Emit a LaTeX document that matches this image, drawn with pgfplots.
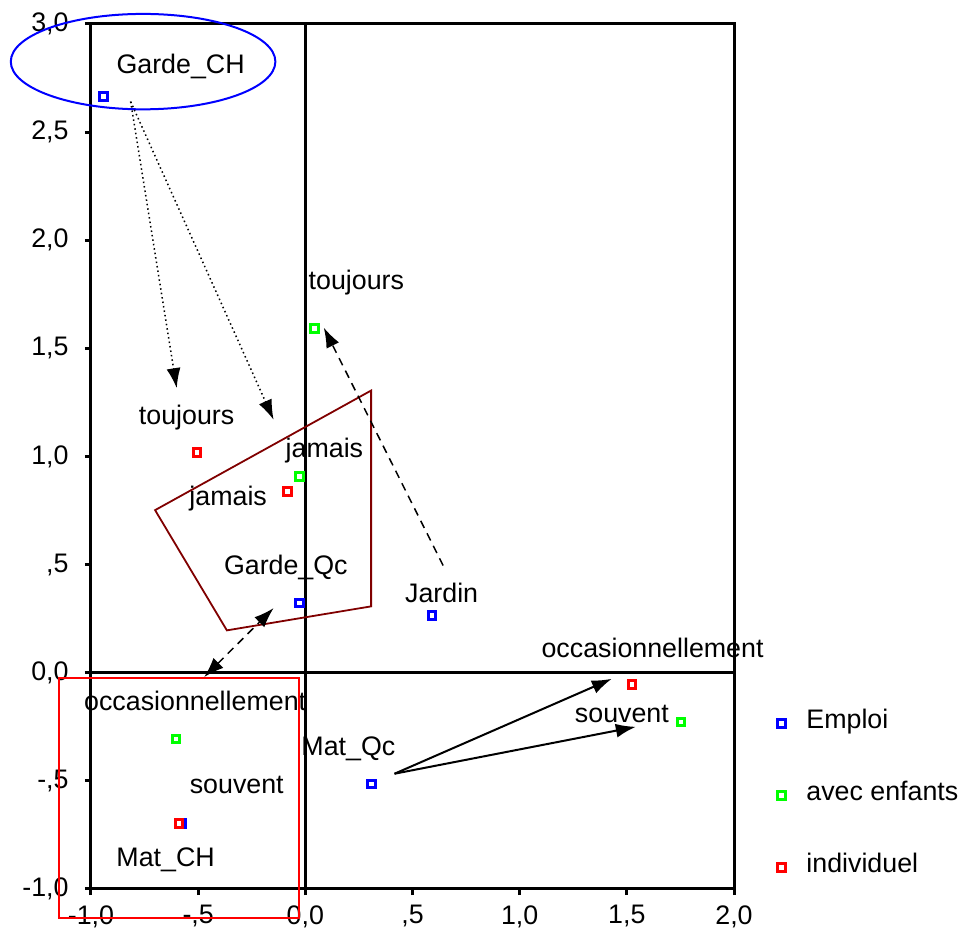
\documentclass[border=0pt]{standalone}
\usepackage{fontspec}
\setmainfont{Liberation Sans}
\usepackage{pgfplots}
\pgfplotsset{compat=1.18}
\usetikzlibrary{arrows.meta}
\definecolor{brownpoly}{RGB}{128,0,0}
\pgfplotsset{mymark/.style={only marks, mark=square*, mark size=1.85pt,
  legend image code/.code={\path[draw=none,fill=none] (0pt,-1pt) rectangle (15pt,1pt); \draw[##1] plot coordinates {(2.5pt,0pt)};}}}
\begin{document}
\begin{tikzpicture}[font=\fontsize{13.4}{15.5}\selectfont]
\path[use as bounding box] (-45.5pt,-21pt) rectangle (436pt,444.5pt);
\begin{axis}[
  at={(0pt,0pt)}, anchor=south west,
  scale only axis, width=321.5pt, height=432.5pt,
  xmin=-1, xmax=2, ymin=-1, ymax=3,
  clip=false,
  axis line style={line width=1.5pt},
  xtick={-1,-0.5,0,0.5,1,1.5,2},
  xticklabels={{-1,0},{-,5},{0,0},{,5},{1,0},{1,5},{2,0}},
  ytick={-1,-0.5,0,0.5,1,1.5,2,2.5,3},
  yticklabels={{-1,0},{-,5},{0,0},{,5},{1,0},{1,5},{2,0},{2,5},{3,0}},
  xtick pos=bottom, ytick pos=left,
  tick align=outside, major tick length=3pt,
  tick style={line width=1.5pt, black},
  tick label style={font=\fontsize{13.4}{15.5}\selectfont},
  xticklabel style={inner sep=0pt, yshift=-5pt},
  yticklabel style={inner sep=0pt, xshift=-8pt},
  extra x ticks={0}, extra y ticks={0},
  extra x tick labels={}, extra y tick labels={},
  extra tick style={grid=major, major grid style={black, line width=1.5pt}},
  legend cell align=left,
  legend style={at={(axis cs:2.196,-0.172)}, anchor=north west, draw=none, fill=none,
    inner sep=0pt, row sep=23pt,
    nodes={inner sep=0pt, text height=9pt, text depth=4pt},
    font=\fontsize{13.4}{15.5}\selectfont},
]
\addplot[mymark, mark options={draw=blue, fill=white, line width=1.5pt}]
  coordinates {(-0.942,2.664) (-0.028,0.322) (0.592,0.265) (0.308,-0.515) (-0.576,-0.698)};
\addlegendentry{Emploi}
\addplot[mymark, mark options={draw=green, fill=white, line width=1.5pt}]
  coordinates {(0.042,1.592) (-0.028,0.908) (-0.603,-0.307) (1.752,-0.227)};
\addlegendentry{avec enfants}
\addplot[mymark, mark options={draw=red, fill=white, line width=1.5pt}]
  coordinates {(-0.505,1.018) (-0.084,0.838) (1.523,-0.055) (-0.589,-0.698)};
\addlegendentry{individuel}

% labels
\node[anchor=base] at (axis cs:-0.582,2.769) {Garde\_CH};
\node[anchor=base] at (axis cs:-0.091,0.453) {Garde\_Qc};
\node[anchor=base] at (axis cs:0.636,0.324) {Jardin};
\node[anchor=base] at (axis cs:0.201,-0.384) {Mat\_Qc};
\node[anchor=base] at (axis cs:-0.652,-0.897) {Mat\_CH};
\node[anchor=base] at (axis cs:0.238,1.771) {toujours};
\node[anchor=base] at (axis cs:0.089,0.994) {jamais};
\node[anchor=base] at (axis cs:-0.514,-0.176) {occasionnellement};
\node[anchor=base] at (axis cs:1.477,-0.231) {souvent};
\node[anchor=base] at (axis cs:-0.554,1.147) {toujours};
\node[anchor=base] at (axis cs:-0.360,0.772) {jamais};
\node[anchor=base] at (axis cs:1.620,0.069) {occasionnellement};
\node[anchor=base] at (axis cs:-0.320,-0.559) {souvent};

% annotations
\draw[blue, line width=1pt] (axis cs:-0.757,2.826) ellipse [x radius=66.15pt, y radius=23.85pt];
\draw[red, line width=1pt] (axis cs:-1.150,-0.026) rectangle (axis cs:-0.028,-1.135);
\draw[brownpoly, line width=0.9pt] (axis cs:-0.701,0.752) -- (axis cs:0.307,1.305) -- (axis cs:0.307,0.307) -- (axis cs:-0.366,0.196) -- cycle;
\draw[line width=0.75pt, dash pattern=on 0.75pt off 1.5pt, -{Latex[length=10pt,width=7pt]}] (axis cs:-0.815,2.641) -- (axis cs:-0.600,1.316);
\draw[line width=0.75pt, dash pattern=on 0.75pt off 1.5pt, -{Latex[length=10pt,width=7pt]}] (axis cs:-0.815,2.641) -- (axis cs:-0.148,1.170);
\draw[line width=0.75pt, dash pattern=on 4pt off 3pt, -{Latex[length=10pt,width=7pt]}] (axis cs:0.643,0.496) -- (axis cs:0.086,1.596);
\draw[line width=0.75pt, dash pattern=on 4pt off 3pt, {Latex[length=10pt,width=7pt]}-{Latex[length=10pt,width=7pt]}] (axis cs:-0.472,-0.020) -- (axis cs:-0.148,0.299);
\draw[line width=1pt, -{Latex[length=10pt,width=7pt]}] (axis cs:0.416,-0.467) -- (axis cs:1.430,-0.028);
\draw[line width=1pt, -{Latex[length=10pt,width=7pt]}] (axis cs:0.416,-0.467) -- (axis cs:1.542,-0.250);
\end{axis}
\end{tikzpicture}
\end{document}
